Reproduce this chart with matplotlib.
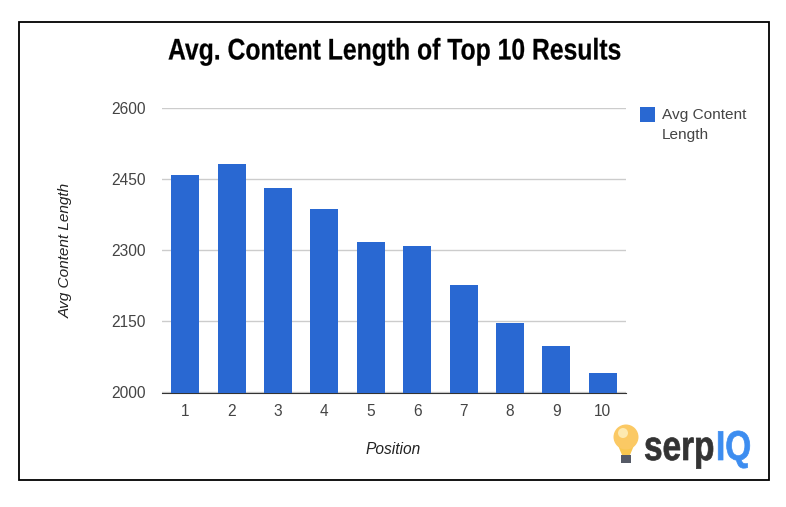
import matplotlib
matplotlib.use('Agg')
import matplotlib.pyplot as plt
from matplotlib.patches import Rectangle, Circle, Polygon
from matplotlib.patheffects import AbstractPathEffect
from matplotlib.transforms import Affine2D

#----Chart values----
positions = ['1', '2', '3', '4', '5', '6', '7', '8', '9', '10']
avg_length = [2458, 2482, 2430, 2387, 2317, 2308, 2226, 2146, 2098, 2041]
y_ticks = [2000, 2150, 2300, 2450, 2600]

W, H = 786, 507
blue = '#2968d2'
text_col = '#444444'

plt.rcParams['font.family'] = ['Liberation Sans', 'DejaVu Sans']


#----No condensed font installed, so squeeze the glyphs sideways and thicken them a bit----
class Squeeze(AbstractPathEffect):
    def __init__(self, sx, dx=0, stroke=0):
        super().__init__()
        self.sx = sx
        self.dx = dx
        self.stroke = stroke

    def draw_path(self, renderer, gc, tpath, affine, rgbFace=None):
        gc0 = renderer.new_gc()
        gc0.copy_properties(gc)
        gc0.set_foreground(rgbFace)
        gc0.set_linewidth(self.stroke)
        trans = Affine2D().scale(self.sx, 1) + affine + Affine2D().translate(self.dx, 0)
        renderer.draw_path(gc0, tpath, trans, rgbFace)
        gc0.restore()


fig = plt.figure(figsize=(W / 100, H / 100), dpi=100, facecolor='white')

#----Overlay in pixel coords for the frame and logo----
bg = fig.add_axes([0, 0, 1, 1])
bg.set_xlim(0, W)
bg.set_ylim(H, 0)
bg.axis('off')
bg.add_patch(Rectangle((18.5, 22), 750, 458, fill=False, edgecolor='black', linewidth=1.3))

#----Main chart----
ax = fig.add_axes([162 / W, 1 - 392.5 / H, 464 / W, 285 / H])
ax.bar(range(len(positions)), avg_length, width=0.6, color=blue, zorder=3)
ax.set_xlim(-0.5, 9.5)
ax.set_ylim(2000, 2600)
ax.set_yticks(y_ticks)
ax.set_xticks(range(len(positions)))
ax.set_xticklabels(positions)
ax.tick_params(axis='both', length=0, labelsize=11.2, labelcolor=text_col)
ax.tick_params(axis='x', pad=8)
ax.tick_params(axis='y', pad=11.5)
ax.grid(axis='y', color='#cccccc', linewidth=1, zorder=0)
for s in ['top', 'right', 'left']:
    ax.spines[s].set_visible(False)
ax.spines['bottom'].set_color('#333333')
ax.patch.set_alpha(0)

#----Texts----
bg.text(168, 59.5, 'Avg. Content Length of Top 10 Results', ha='left', va='baseline',
        fontsize=21.5, fontweight='bold', color='black', path_effects=[Squeeze(0.828, stroke=0.15)])
fig.text(393.5 / W, 1 - 450 / H, 'Position', ha='center', va='center', fontsize=11.2, style='italic', color='#222222')
fig.text(66 / W, 1 - 250.5 / H, 'Avg Content Length', ha='center', va='center', rotation=90,
         fontsize=11.1, style='italic', color='#222222')

#----Legend----
bg.add_patch(Rectangle((640, 107), 15, 15, color=blue, linewidth=0))
bg.text(661.5, 114.5, 'Avg Content', ha='left', va='center', fontsize=11.1, color=text_col)
bg.text(661.5, 134.5, 'Length', ha='left', va='center', fontsize=11.1, color=text_col)

#----Logo----
bg.add_patch(Polygon([(617, 443), (635, 443), (630, 455), (622, 455)], color='#f9c74f', linewidth=0))
bg.add_patch(Circle((626, 437), 12.5, color='#fbc964', linewidth=0))
bg.add_patch(Circle((623, 433), 5, color='#fde9b0', linewidth=0))
bg.add_patch(Rectangle((621, 455), 10, 8, color='#555a66', linewidth=0))
bg.text(715, 460, 'serp', ha='right', va='baseline', fontsize=30, fontweight='bold',
        color='#333333', path_effects=[Squeeze(0.8, dx=17, stroke=0.5)])
bg.text(716, 460, 'IQ', ha='left', va='baseline', fontsize=30, fontweight='bold',
        color='#3d8df0', path_effects=[Squeeze(0.8, stroke=0.5)])

fig.savefig('out.png', dpi=100)
